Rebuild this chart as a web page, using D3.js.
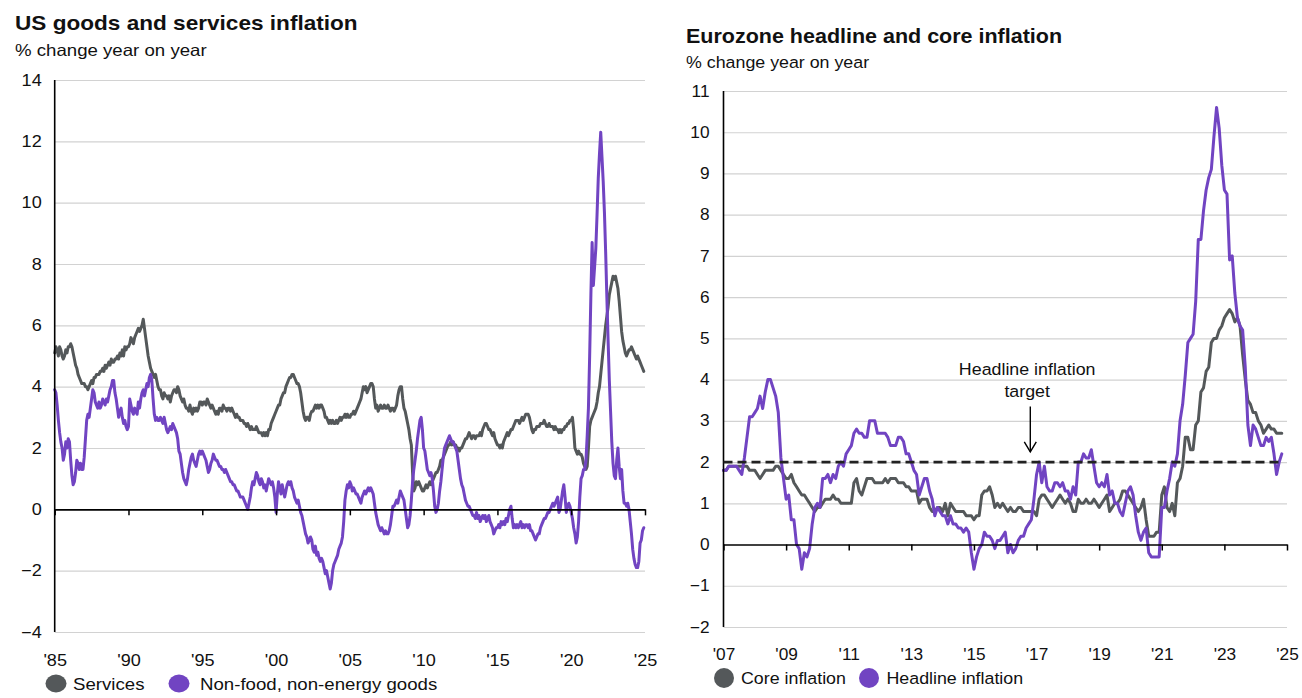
<!DOCTYPE html>
<html><head><meta charset="utf-8">
<script src="https://cdn.jsdelivr.net/npm/d3@7"></script>
<style>
body{margin:0;background:#fff;}
svg{display:block;font-family:"Liberation Sans",Arial,Helvetica,sans-serif;}
</style>
</head><body>
<svg id="c" width="1302" height="698"></svg>
<script>
// ---------------- DATA ----------------
// US: monthly, Jan 1985 - Dec 2024, % change year on year
const usStartYear = 1985;
const usServices = [
5.1,5.3,5.2,5.0,5.3,5.2,5.0,4.9,5.0,5.2,5.1,5.3,
5.3,5.4,5.3,5.1,4.9,4.7,4.6,4.4,4.3,4.2,4.1,4.1,
4.1,4.0,4.0,3.9,4.0,4.1,4.2,4.1,4.3,4.3,4.4,4.4,
4.4,4.5,4.5,4.6,4.5,4.7,4.6,4.7,4.8,4.7,4.9,4.8,
4.8,4.9,4.9,5.0,4.9,5.1,5.0,5.2,5.0,5.3,5.2,5.3,
5.3,5.4,5.6,5.5,5.4,5.6,5.7,5.8,5.9,5.8,5.9,6.0,
6.2,5.9,5.6,5.3,5.0,4.8,4.6,4.5,4.4,4.3,4.4,4.2,
4.0,3.9,3.9,3.7,3.6,3.8,3.7,3.7,3.6,3.7,3.5,3.7,
3.8,3.9,3.9,3.8,4.0,3.9,3.7,3.6,3.5,3.6,3.4,3.3,
3.3,3.2,3.4,3.2,3.1,3.3,3.2,3.3,3.2,3.3,3.5,3.5,
3.4,3.5,3.5,3.4,3.6,3.5,3.4,3.3,3.4,3.3,3.2,3.1,
3.2,3.1,3.3,3.3,3.2,3.4,3.3,3.3,3.2,3.3,3.3,3.2,
3.3,3.2,3.1,3.0,3.1,3.0,3.0,2.9,2.9,2.9,2.8,2.8,
2.7,2.8,2.7,2.6,2.7,2.6,2.6,2.6,2.7,2.6,2.5,2.5,
2.5,2.4,2.5,2.4,2.5,2.4,2.6,2.6,2.8,2.9,3.0,3.1,
3.2,3.3,3.4,3.4,3.6,3.7,3.8,3.8,4.0,4.1,4.2,4.3,
4.3,4.4,4.4,4.3,4.2,4.1,4.1,4.0,3.8,3.5,3.2,3.0,
2.9,3.0,3.0,2.9,3.1,3.2,3.2,3.3,3.4,3.3,3.4,3.3,
3.4,3.4,3.3,3.2,3.0,3.0,2.9,2.8,2.9,2.8,2.9,2.8,
2.8,2.9,2.8,2.9,3.0,2.9,3.0,3.0,3.1,3.0,3.1,3.0,
3.0,3.1,3.1,3.2,3.1,3.2,3.3,3.4,3.5,3.6,3.8,4.0,
3.9,4.0,3.8,3.9,4.0,4.1,4.1,4.0,3.6,3.3,3.4,3.2,
3.3,3.4,3.3,3.3,3.4,3.3,3.3,3.4,3.3,3.2,3.3,3.3,
3.2,3.3,3.4,3.7,3.9,4.0,4.0,3.6,3.3,3.2,3.0,2.8,
2.6,2.3,2.1,1.2,0.6,0.7,0.9,0.8,0.9,0.8,0.7,0.6,
0.6,0.7,0.8,0.7,0.8,0.9,0.8,0.9,1.0,1.1,1.2,1.2,
1.3,1.4,1.6,1.6,1.7,1.8,1.9,2.0,2.1,2.1,2.2,2.1,
2.2,2.1,2.1,2.0,2.0,1.9,2.0,2.0,2.1,2.2,2.3,2.3,
2.4,2.5,2.4,2.3,2.4,2.4,2.3,2.4,2.4,2.4,2.5,2.4,
2.6,2.7,2.8,2.8,2.7,2.6,2.6,2.5,2.4,2.5,2.3,2.2,
2.1,2.1,2.0,2.1,2.0,2.2,2.3,2.4,2.5,2.4,2.5,2.6,
2.6,2.7,2.8,2.9,2.9,2.9,2.8,2.9,3.0,2.9,3.0,3.1,
3.1,3.1,3.0,2.8,2.6,2.5,2.6,2.6,2.7,2.7,2.7,2.8,
2.8,2.8,2.9,2.8,2.7,2.7,2.8,2.7,2.7,2.7,2.6,2.7,
2.6,2.6,2.5,2.6,2.5,2.6,2.6,2.7,2.7,2.8,2.8,2.9,
2.9,3.0,2.6,2.0,1.9,1.8,1.9,1.8,1.8,1.7,1.5,1.4,
1.3,1.4,2.0,2.7,2.9,3.0,3.1,3.2,3.3,3.5,3.8,4.0,
4.4,4.8,5.2,5.6,6.0,6.3,6.6,7.0,7.2,7.4,7.6,7.5,
7.6,7.4,7.2,6.8,6.3,5.8,5.5,5.3,5.1,5.0,5.1,5.2,
5.2,5.3,5.2,5.1,5.0,4.9,5.0,4.9,4.8,4.7,4.6,4.5
];
const usGoods = [
3.9,3.8,3.4,2.9,2.5,2.2,2.0,1.6,1.8,2.2,2.0,2.3,
2.2,1.6,1.1,0.8,0.9,1.2,1.6,1.5,1.3,1.5,1.3,1.3,
1.7,2.3,2.9,3.1,3.0,3.3,3.6,3.9,3.8,3.5,3.4,3.3,
3.5,3.3,3.4,3.6,3.5,3.4,3.6,3.5,3.7,3.9,4.0,4.2,
4.2,3.8,3.6,3.3,3.0,3.2,3.3,3.0,2.8,2.9,2.7,2.6,
2.7,3.6,3.4,3.2,3.1,3.3,3.2,3.1,3.5,3.3,3.6,3.8,
3.9,3.7,3.9,4.1,4.0,4.3,4.4,4.2,3.6,3.1,2.9,3.0,
2.9,2.9,3.0,2.9,2.8,3.0,2.8,2.6,2.5,2.6,2.7,2.6,
2.8,2.7,2.6,2.5,2.3,1.9,1.8,1.5,1.2,1.0,0.9,0.8,
1.0,1.3,1.5,1.7,1.8,1.6,1.5,1.4,1.6,1.8,1.9,1.8,
1.9,1.8,1.7,1.6,1.4,1.2,1.3,1.5,1.6,1.8,1.7,1.6,
1.6,1.5,1.4,1.4,1.3,1.3,1.2,1.3,1.2,1.1,1.0,0.9,
0.9,0.8,0.8,0.7,0.6,0.6,0.5,0.4,0.4,0.4,0.3,0.2,
0.1,0.0,0.2,0.4,0.7,0.9,0.8,1.0,1.2,1.1,0.9,0.8,
1.0,0.9,0.7,0.8,0.6,0.8,1.0,0.9,0.8,0.9,0.7,0.4,
-0.1,0.5,0.9,0.7,0.5,0.8,0.6,0.4,0.6,0.8,0.9,0.8,
0.9,0.7,0.6,0.4,0.3,0.2,0.3,0.1,-0.1,-0.2,-0.4,-0.6,
-0.8,-0.9,-1.1,-1.0,-0.9,-1.0,-1.3,-1.4,-1.2,-1.5,-1.4,-1.6,
-1.7,-1.6,-1.7,-1.9,-2.1,-2.0,-2.2,-2.4,-2.6,-2.4,-2.0,-1.8,
-1.7,-1.6,-1.5,-1.3,-1.2,-1.1,-0.9,-0.4,0.3,0.6,0.8,0.7,
0.9,0.8,0.6,0.7,0.6,0.5,0.5,0.4,0.3,0.2,0.4,0.5,
0.6,0.5,0.6,0.7,0.6,0.7,0.6,0.5,0.2,-0.1,-0.3,-0.5,
-0.6,-0.7,-0.6,-0.7,-0.8,-0.7,-0.8,-0.8,-0.7,-0.5,-0.2,0.1,
0.1,0.2,0.3,0.2,0.4,0.6,0.5,0.4,0.3,0.0,-0.3,-0.6,
-0.5,-0.2,0.3,0.9,1.3,1.6,1.9,2.3,2.6,2.9,3.0,2.6,
2.0,1.9,1.6,1.3,1.2,1.1,1.2,1.0,0.6,0.1,-0.1,0.0,
0.2,0.6,0.9,1.3,1.7,2.0,2.1,2.2,2.3,2.4,2.3,2.2,
2.2,2.1,2.0,1.9,1.6,1.3,1.0,0.8,0.7,0.5,0.3,0.2,
0.1,0.1,0.0,-0.1,-0.2,-0.2,-0.3,-0.1,-0.3,-0.2,-0.4,-0.3,
-0.2,-0.3,-0.2,-0.4,-0.3,-0.2,-0.4,-0.5,-0.6,-0.8,-0.7,-0.6,
-0.6,-0.5,-0.6,-0.4,-0.5,-0.4,-0.5,-0.3,-0.4,-0.2,0.0,0.1,
-0.3,-0.6,-0.5,-0.6,-0.5,-0.6,-0.5,-0.4,-0.6,-0.5,-0.6,-0.5,
-0.5,-0.6,-0.5,-0.7,-0.7,-0.8,-0.9,-1.0,-0.9,-0.8,-0.8,-0.6,
-0.5,-0.4,-0.3,-0.3,-0.2,-0.1,-0.1,0.0,0.1,0.2,0.1,0.2,
0.3,0.4,-0.1,0.0,0.3,0.6,0.8,0.4,-0.1,0.1,0.2,0.1,
-0.1,-0.3,-0.6,-0.8,-1.1,-0.9,-0.4,0.4,1.0,1.1,1.3,1.3,
1.6,2.4,3.3,5.0,7.0,8.7,7.3,7.9,8.5,9.6,10.8,11.6,
12.3,11.5,10.7,9.7,8.4,6.9,5.5,4.2,3.2,2.2,1.5,1.1,
1.0,1.6,2.0,1.4,1.0,1.3,0.6,0.2,0.2,0.1,0.2,0.0,
-0.4,-0.8,-1.3,-1.6,-1.8,-1.9,-1.9,-1.7,-1.1,-1.0,-0.7,-0.6
];
const usYTicks = [-4,-2,0,2,4,6,8,10,12,14];
const usXTicks = [1985,1990,1995,2000,2005,2010,2015,2020,2025];
const usXLabels = ["'85","'90","'95","'00","'05","'10","'15","'20","'25"];

// Eurozone: monthly, Jan 2007 - Nov 2024, % change year on year
const ezStartYear = 2007;
const ezCore = [
1.8,1.8,1.9,1.9,1.9,1.9,1.9,1.9,1.9,1.9,1.8,1.8,
1.8,1.7,1.6,1.7,1.8,1.8,1.8,1.8,1.9,1.9,1.8,1.7,
1.6,1.6,1.7,1.5,1.4,1.3,1.2,1.2,1.1,1.0,0.9,0.8,
0.9,0.9,1.0,1.1,1.1,1.1,1.2,1.1,1.1,1.0,1.0,1.0,
1.0,1.0,1.5,1.6,1.3,1.2,1.4,1.6,1.6,1.6,1.5,1.5,
1.5,1.5,1.6,1.5,1.6,1.6,1.6,1.5,1.5,1.5,1.4,1.4,
1.3,1.3,1.3,1.0,1.1,1.1,1.1,0.9,0.8,0.8,0.9,0.9,
0.8,1.0,0.7,1.0,0.9,0.8,0.8,0.8,0.8,0.7,0.7,0.7,
0.6,0.7,0.7,1.2,1.3,1.3,1.4,1.2,0.9,1.0,0.9,1.0,
0.9,0.8,0.9,0.8,0.8,0.9,0.9,0.8,0.8,0.8,0.8,0.8,
0.7,1.1,1.2,1.2,1.1,1.0,0.9,1.0,1.1,1.2,1.1,1.0,
1.1,1.0,0.8,0.8,1.1,1.0,1.0,1.1,1.0,1.0,1.1,1.0,
0.9,1.0,1.1,1.2,0.8,0.9,1.0,1.0,1.1,1.3,1.3,1.2,
1.1,1.0,0.9,0.8,0.9,1.1,0.6,0.2,0.2,0.2,0.3,0.3,
1.2,1.4,0.9,0.8,1.0,0.7,1.5,1.6,1.9,2.6,2.6,2.3,
2.3,2.9,3.0,3.7,3.8,4.2,4.3,4.9,5.0,5.0,5.2,5.3,
5.5,5.6,5.7,5.6,5.4,5.5,5.3,4.6,4.0,3.5,3.4,3.2,
3.2,3.0,2.9,2.7,2.8,2.9,2.8,2.8,2.7,2.7,2.7
];
const ezHeadline = [
1.8,1.8,1.9,1.9,1.9,1.9,1.8,1.7,2.1,2.6,3.1,3.1,
3.2,3.3,3.6,3.3,3.7,4.0,4.0,3.8,3.6,3.2,2.1,1.6,
1.1,1.2,0.6,0.6,0.0,-0.1,-0.6,-0.2,-0.3,-0.1,0.5,0.9,
1.0,0.9,1.6,1.6,1.7,1.5,1.7,1.6,1.9,2.0,1.9,2.2,
2.3,2.4,2.7,2.8,2.7,2.7,2.6,2.6,3.0,3.0,3.0,2.7,
2.7,2.7,2.7,2.6,2.4,2.4,2.4,2.6,2.6,2.5,2.2,2.2,
2.0,1.8,1.7,1.2,1.4,1.6,1.6,1.3,1.1,0.7,0.9,0.8,
0.7,0.7,0.5,0.7,0.5,0.5,0.4,0.4,0.3,0.4,0.3,-0.2,
-0.6,-0.3,-0.1,0.0,0.3,0.2,0.2,0.1,-0.1,0.1,0.1,0.2,
0.3,-0.2,0.0,-0.2,-0.1,0.1,0.2,0.2,0.4,0.5,0.6,1.1,
1.7,2.0,1.5,1.9,1.4,1.3,1.3,1.5,1.5,1.4,1.5,1.3,
1.3,1.1,1.4,1.2,2.0,2.0,2.2,2.1,2.1,2.3,1.9,1.5,
1.4,1.5,1.4,1.7,1.2,1.3,1.0,1.0,0.8,0.7,1.0,1.3,
1.4,1.2,0.7,0.3,0.1,0.3,0.4,-0.2,-0.3,-0.3,-0.3,-0.3,
0.9,0.9,1.3,1.6,2.0,1.9,2.2,3.0,3.4,4.1,4.9,5.0,
5.1,5.9,7.4,7.4,8.1,8.6,8.9,9.1,9.9,10.6,10.1,9.2,
8.6,8.5,6.9,7.0,6.1,5.5,5.3,5.2,4.3,2.9,2.4,2.9,
2.8,2.6,2.4,2.4,2.6,2.5,2.6,2.2,1.7,2.0,2.2
];
const ezTarget = 2;
const ezYTicks = [-2,-1,0,1,2,3,4,5,6,7,8,9,10,11];
const ezXTicks = [2007,2009,2011,2013,2015,2017,2019,2021,2023,2025];
const ezXLabels = ["'07","'09","'11","'13","'15","'17","'19","'21","'23","'25"];

// ---------------- STYLE ----------------
const GRAY = "#54585a", PURPLE = "#7144c2", GRID = "#d2d2d2";
const svg = d3.select("#c");

function txt(g, x, y, str, o = {}) {
  return g.append("text")
    .attr("transform", `translate(${x},${y}) scale(${o.sx || 1},1)`)
    .attr("font-size", o.size || 16)
    .attr("font-weight", o.bold ? "bold" : "normal")
    .attr("text-anchor", o.anchor || "start")
    .attr("fill", o.fill || "#111")
    .text(str);
}
function stretch(sel, sx) {
  sel.each(function () {
    const t = d3.select(this);
    const x = +t.attr("x") || 0;
    t.attr("x", 0).attr("transform", `translate(${x},0) scale(${sx},1)`);
  });
}
function monthly(vals, start) { return vals.map((v, i) => ({ t: start + i / 12, v })); }

function panel(cfg) {
  const g = svg.append("g");
  const x = d3.scaleLinear().domain(cfg.xDomain).range(cfg.xRange);
  const y = d3.scaleLinear().domain(cfg.yDomain).range(cfg.yRange);
  const x0 = cfg.xRange[0], x1 = cfg.xRange[1];

  // gridlines
  const grid = g.append("g").attr("transform", `translate(${x0},0)`)
    .call(d3.axisLeft(y).tickValues(cfg.yTicks.filter(d => d !== 0)).tickSize(-(x1 - x0)).tickFormat(""));
  grid.select(".domain").remove();
  grid.selectAll("line").attr("stroke", GRID).attr("stroke-width", 1.2);

  // y labels
  const yl = g.append("g").attr("transform", `translate(${x0},0)`)
    .call(d3.axisLeft(y).tickValues(cfg.yTicks).tickSize(0).tickPadding(cfg.yPad).tickFormat(d3.format("d")));
  yl.select(".domain").remove();
  yl.selectAll("text").attr("font-size", 16).attr("fill", "#111").attr("font-family", null);
  stretch(yl.selectAll("text"), cfg.sx);

  // x labels
  const xl = g.append("g").attr("transform", `translate(0,${cfg.yRange[0]})`)
    .call(d3.axisBottom(x).tickValues(cfg.xTicks).tickSize(0).tickPadding(cfg.xPad)
      .tickFormat((d, i) => cfg.xLabels[i]));
  xl.select(".domain").remove();
  xl.selectAll("text").attr("font-size", 16).attr("fill", "#111").attr("font-family", null);
  stretch(xl.selectAll("text"), cfg.sx);

  // series lines
  const line = d3.line().x(d => x(d.t)).y(d => y(d.v)).curve(d3.curveLinear);
  cfg.series.forEach(s => {
    g.append("path").datum(monthly(s.values, cfg.start))
      .attr("d", line).attr("fill", "none").attr("stroke", s.color)
      .attr("stroke-width", 3).attr("stroke-linejoin", "round").attr("stroke-linecap", "round");
  });

  // zero line with ticks
  const z = g.append("g").attr("transform", `translate(0,${y(0)})`)
    .call(d3.axisBottom(x).tickValues(cfg.xTicks).tickSizeInner(6).tickSizeOuter(0).tickFormat(""));
  z.select(".domain").attr("stroke", "#000").attr("stroke-width", 1.6);
  z.selectAll("line").attr("stroke", "#000").attr("stroke-width", 1.5);

  // y axis line
  g.append("line").attr("x1", x0).attr("x2", x0)
    .attr("y1", y(cfg.yDomain[1])).attr("y2", y(cfg.yDomain[0]))
    .attr("stroke", "#000").attr("stroke-width", 1.6);

  // titles
  txt(g, cfg.titleX, cfg.titleY, cfg.title, { size: 20, bold: true, sx: cfg.titleSx });
  txt(g, cfg.titleX, cfg.subY, "% change year on year", { size: 16.5, sx: cfg.sx });

  // legend
  cfg.series.forEach((s, i) => {
    g.append("ellipse").attr("cx", cfg.legend[i].cx).attr("cy", cfg.legendY)
      .attr("rx", cfg.legendRx).attr("ry", cfg.legendRy).attr("fill", s.color);
    txt(g, cfg.legend[i].tx, cfg.legendY + 6, s.name, { size: 16.5, sx: cfg.sx });
  });
  return { g, x, y };
}

// Left panel
panel({
  xDomain: [1985, 2025], xRange: [54.7, 645],
  yDomain: [-4, 14], yRange: [632, 80],
  yTicks: usYTicks, xTicks: usXTicks, xLabels: usXLabels,
  yPad: 13, xPad: 23, sx: 1.13, start: usStartYear,
  title: "US goods and services inflation", titleX: 15, titleY: 30, subY: 56, titleSx: 1.13,
  series: [
    { name: "Services", values: usServices, color: GRAY },
    { name: "Non-food, non-energy goods", values: usGoods, color: PURPLE }
  ],
  legendY: 683.5, legendRx: 10.5, legendRy: 9,
  legend: [{ cx: 56, tx: 73 }, { cx: 179, tx: 200 }]
});

// Right panel
const R = panel({
  xDomain: [2007, 2025], xRange: [723.5, 1287],
  yDomain: [-2, 11], yRange: [627, 91],
  yTicks: ezYTicks, xTicks: ezXTicks, xLabels: ezXLabels,
  yPad: 14, xPad: 22, sx: 1.08, start: ezStartYear,
  title: "Eurozone headline and core inflation", titleX: 686, titleY: 43, subY: 68, titleSx: 1.075,
  series: [
    { name: "Core inflation", values: ezCore, color: GRAY },
    { name: "Headline inflation", values: ezHeadline, color: PURPLE }
  ],
  legendY: 678, legendRx: 10, legendRy: 10,
  legend: [{ cx: 724, tx: 741 }, { cx: 869, tx: 886.5 }]
});

// Headline inflation target (dashed) and annotation
const lastT = ezStartYear + (ezHeadline.length - 1) / 12;
R.g.append("line")
  .attr("x1", R.x(ezStartYear)).attr("x2", R.x(lastT) - 3)
  .attr("y1", R.y(ezTarget)).attr("y2", R.y(ezTarget))
  .attr("stroke", "#222").attr("stroke-width", 2.8).attr("stroke-dasharray", "9,5");

const ax = R.x(2016.8), tipY = R.y(2.25), topY = R.y(3.35);
R.g.append("line").attr("x1", ax).attr("x2", ax).attr("y1", topY).attr("y2", tipY)
  .attr("stroke", "#000").attr("stroke-width", 1.4);
R.g.append("path")
  .attr("d", `M${ax - 6},${tipY - 10} L${ax},${tipY} L${ax + 6},${tipY - 10}`)
  .attr("fill", "none").attr("stroke", "#000").attr("stroke-width", 1.4);
txt(R.g, R.x(2016.7), 375, "Headline inflation", { size: 16.5, sx: 1.08, anchor: "middle" });
txt(R.g, R.x(2016.7), 397, "target", { size: 16.5, sx: 1.08, anchor: "middle" });
</script>
</body></html>
